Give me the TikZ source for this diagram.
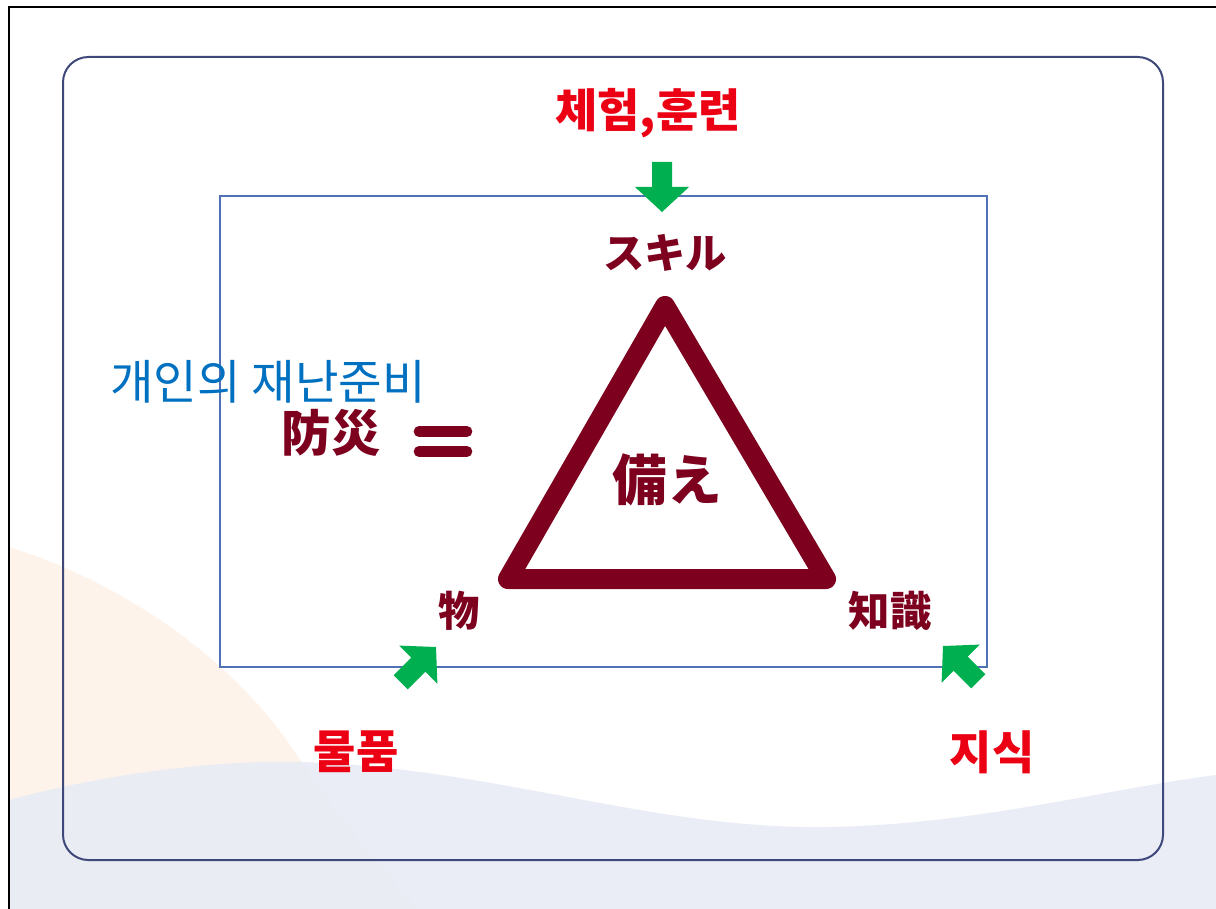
\documentclass[tikz,border=0pt]{standalone}
\usepackage{fontspec}
\newfontfamily\kr{Noto Sans CJK KR}
\newfontfamily\jp{Noto Sans CJK JP}
\definecolor{lblred}{RGB}{235,0,20}
\definecolor{maroon}{RGB}{125,0,30}
\definecolor{lblblue}{RGB}{0,112,192}
\definecolor{arrgreen}{RGB}{0,176,80}
\definecolor{innerbl}{RGB}{80,114,180}
\definecolor{outerbl}{RGB}{62,72,122}
\definecolor{peach}{RGB}{253,243,235}
\definecolor{wave}{RGB}{232,236,246}
\tikzset{
  redlbl/.style={text=lblred, font=\kr\bfseries\fontsize{34.5}{38}\selectfont, inner sep=0pt},
  jplbl/.style={text=maroon, font=\jp\bfseries\fontsize{31}{34}\selectfont, inner sep=0pt},
  bluelbl/.style={text=lblblue, font=\kr\fontsize{35.5}{38}\selectfont, inner sep=0pt},
  blockarrow/.pic={\fill[arrgreen] (-50,-10)--(-25,-10)--(-25,-27)--(0,0)--(-25,27)--(-25,10)--(-50,10)--cycle;}
}
\begin{document}
\begin{tikzpicture}[x=0.75pt,y=-0.75pt]
\useasboundingbox (0,0) rectangle (1216,909);
\fill[white] (0,0) rectangle (1216,909);
% background shapes
\fill[peach] (9,547) .. controls (130,585) and (240,665) .. (300,760) .. controls (350,830) and (390,880) .. (420,909) -- (9,909) -- cycle;
\fill[wave, opacity=0.9] (9,800) .. controls (120,770) and (230,760) .. (300,762) .. controls (500,768) and (650,830) .. (830,827) .. controls (980,824) and (1100,790) .. (1216,775) -- (1216,909) -- (9,909) -- cycle;
% image border
\draw[black, line width=1.5pt] (9,909) -- (9,7) -- (1216,7);
% frames
\draw[outerbl, line width=1.5pt, rounded corners=19pt] (63,57) rectangle (1163,860);
\draw[innerbl, line width=1.7pt] (220,196) rectangle (987,667);
% triangle
\draw[maroon, line width=15pt, line join=round] (665,306) -- (508,579) -- (826,579) -- cycle;
% texts
\node[redlbl] (top) at (648,113) {체험,훈련};
\node[jplbl] (skill) at (665,253) {スキル};
\node[jplbl, font=\jp\bfseries\fontsize{41}{44}\selectfont] (sonae) at (667,480) {備え};
\node[jplbl] (mono) at (459,611) {物};
\node[jplbl] (chishiki) at (890,611) {知識};
\node[bluelbl] (kojin) at (268,382) {개인의 재난준비};
\node[jplbl, font=\jp\bfseries\fontsize{37}{40}\selectfont] (bousai) at (331,433) {防災};
\node[redlbl] (mulpum) at (356,752) {물품};
\node[redlbl] (jisik) at (992,752) {지식};
% equals sign
\draw[maroon, line width=8pt, line cap=round] (419,431.5) -- (467,431.5);
\draw[maroon, line width=8pt, line cap=round] (419,451.5) -- (467,451.5);
% green arrows
\pic[rotate=-90] at (662,212) {blockarrow};
\pic[rotate=45] at (436,647) {blockarrow};
\pic[rotate=135] at (943,646) {blockarrow};
\end{tikzpicture}
\end{document}
